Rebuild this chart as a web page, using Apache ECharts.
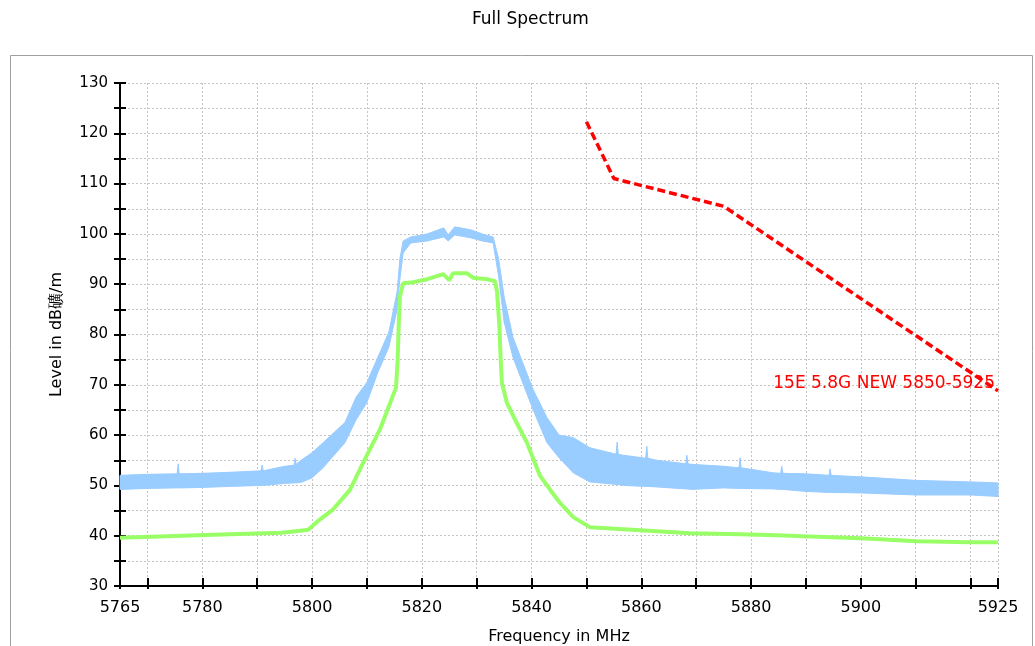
<!DOCTYPE html>
<html>
<head>
<meta charset="utf-8">
<title>Full Spectrum</title>
<script src="https://cdn.jsdelivr.net/npm/echarts@6/dist/echarts.min.js"></script>
<style>
  html, body { margin: 0; padding: 0; background: #fff; }
  #chart { width: 1035px; height: 646px; }
</style>
</head>
<body>
<div id="chart"></div>
<script>
// x tick / label positions (MHz)
var xTicks = [5765, 5770, 5780, 5790, 5800, 5810, 5820, 5830, 5840, 5850, 5860, 5870, 5880, 5890, 5900, 5910, 5920, 5925]
var xLabels = [5765, 5780, 5800, 5820, 5840, 5860, 5880, 5900, 5925]
var yLabels = [30, 40, 50, 60, 70, 80, 90, 100, 110, 120, 130]

// blue trace (peak hold) - read as lower / upper edge of the noise band, incl. the bigger spikes
var blueFreq = [5765, 5770, 5775, 5775.4, 5775.6, 5775.8, 5780, 5785, 5790.7, 5790.9, 5791.1, 5795, 5796.7, 5796.9, 5797.1, 5798, 5800, 5802, 5804, 5806, 5808, 5810, 5812, 5814, 5815.5, 5816, 5816.6, 5818, 5821, 5824, 5824.8, 5826, 5829, 5831, 5833, 5834, 5835, 5836.6, 5838, 5840.3, 5842.8, 5845, 5847.6, 5850.6, 5855.4, 5855.6, 5855.8, 5856.7, 5860.8, 5861, 5861.2, 5862.8, 5868.1, 5868.3, 5868.5, 5869, 5875, 5877.8, 5878, 5878.2, 5884, 5885.4, 5885.6, 5885.8, 5890, 5894.2, 5894.4, 5894.6, 5900, 5910, 5920, 5925]
var blueLow = [49.2, 49.4, 49.5, 49.5, 49.5, 49.5, 49.6, 49.8, 50.0, 50.0, 50.0, 50.4, 50.5, 50.5, 50.5, 50.6, 51.5, 53.5, 56.0, 58.5, 63.0, 66.5, 72.5, 77.5, 85.0, 91.0, 96.2, 98.2, 98.6, 99.4, 98.6, 99.8, 99.2, 98.6, 98.2, 91.5, 82.5, 75.5, 71.5, 65.0, 58.5, 55.5, 52.5, 50.7, 50.2, 50.2, 50.2, 50.0, 49.8, 49.8, 49.8, 49.7, 49.3, 49.3, 49.3, 49.2, 49.5, 49.4, 49.4, 49.4, 49.3, 49.2, 49.2, 49.2, 48.8, 48.6, 48.6, 48.6, 48.5, 48.1, 48.1, 47.8]
var blueHigh = [52.0, 52.2, 52.3, 52.3, 54.3, 52.3, 52.4, 52.6, 52.9, 54.0, 52.9, 53.8, 54.0, 55.4, 54.2, 55.0, 56.5, 58.5, 60.5, 62.5, 67.5, 70.5, 75.5, 80.5, 88.5, 95.0, 98.6, 99.4, 100.0, 101.2, 99.8, 101.4, 100.8, 100.0, 99.4, 95.0, 87.5, 79.5, 75.5, 69.0, 63.5, 60.0, 59.5, 57.5, 56.2, 58.6, 56.2, 56.0, 55.4, 57.8, 55.4, 55.0, 54.3, 56.0, 54.3, 54.2, 53.8, 53.5, 55.5, 53.5, 52.5, 52.4, 53.8, 52.4, 52.3, 52.0, 53.3, 52.0, 51.7, 51.0, 50.7, 50.5]

// green trace (average)
var greenFreq = [5765, 5782, 5794.5, 5797.8, 5799.3, 5801.4, 5803.8, 5806.9, 5810, 5812.4, 5814.2, 5815.1, 5815.3, 5815.6, 5815.8, 5816, 5816.6, 5818.4, 5821, 5823.9, 5825, 5825.7, 5828.2, 5829.3, 5831.9, 5833.3, 5833.7, 5834.1, 5834.4, 5834.6, 5835.5, 5837.3, 5839.2, 5841.5, 5843.4, 5845.2, 5847.6, 5850.6, 5853.7, 5859.8, 5868.9, 5878, 5884.7, 5889.5, 5900, 5910.2, 5919.9, 5925]
var greenLevel = [39.6, 40.2, 40.6, 41.0, 41.2, 43.2, 45.2, 49.1, 56.0, 61.2, 66.3, 68.9, 69.5, 75.0, 82.3, 87.5, 90.2, 90.4, 91.0, 92.0, 90.8, 92.2, 92.2, 91.3, 91.0, 90.6, 88.6, 82.3, 74.3, 70.4, 66.4, 62.4, 58.4, 52.0, 49.1, 46.5, 43.7, 41.7, 41.5, 41.1, 40.5, 40.3, 40.1, 39.9, 39.5, 38.9, 38.7, 38.7]

// limit line
var limitFreq = [5850, 5855, 5875, 5925]
var limitLevel = [122.3, 111.0, 105.5, 68.8]
var limitName = '15E 5.8G NEW 5850-5925'

var font = 'DejaVu Sans'

var chart = echarts.init(document.getElementById('chart'))

var greenData = []
for (var j = 0; j < greenFreq.length; j++) {
  greenData.push([greenFreq[j], greenLevel[j]])
}
var limitData = []
for (var k = 0; k < limitFreq.length; k++) {
  var item = { value: [limitFreq[k], limitLevel[k]] }
  if (k === limitFreq.length - 1) {
    item.label = {
      show: true,
      position: 'left',
      distance: 3,
      offset: [0, -7],
      formatter: limitName,
      color: '#ff0000',
      fontFamily: font,
      fontSize: 17
    }
  }
  limitData.push(item)
}

// blue noise band: polygon along upper edge then back along lower edge
function renderBand(params, api) {
  var pts = []
  for (var i = 0; i < blueFreq.length; i++) {
    pts.push(api.coord([blueFreq[i], blueHigh[i]]))
  }
  for (var i = blueFreq.length - 1; i >= 0; i--) {
    pts.push(api.coord([blueFreq[i], blueLow[i]]))
  }
  return {
    type: 'polygon',
    shape: { points: pts },
    style: { fill: '#99ccff', stroke: '#99ccff', lineWidth: 1 }
  }
}

var gridLine = { color: '#c4c4c4', type: [2, 2], width: 1 }

chart.setOption({
  animation: false,
  backgroundColor: '#fff',
  title: {
    text: 'Full Spectrum',
    left: 467,
    top: 6,
    textStyle: { fontFamily: font, fontSize: 17, fontWeight: 'normal', color: '#000' }
  },
  graphic: [
    {
      type: 'rect',
      silent: true,
      shape: { x: 10.5, y: 55.5, width: 1022, height: 640 },
      style: { fill: 'none', stroke: '#a0a0a0', lineWidth: 1 }
    }
  ],
  grid: { left: 120, right: 37, top: 83, bottom: 60, outerBoundsMode: 'none' },
  xAxis: [
    {
      type: 'value',
      min: 5765,
      max: 5925,
      name: 'Frequency in MHz',
      nameLocation: 'middle',
      nameGap: 43,
      nameTextStyle: { fontFamily: font, fontSize: 16, color: '#000' },
      axisLine: { lineStyle: { color: '#000', width: 2 } },
      axisTick: { inside: true, length: 8, customValues: xTicks, lineStyle: { color: '#000', width: 2 } },
      axisLabel: {
        customValues: xLabels, margin: 14, fontFamily: font, fontSize: 16, color: '#000',
        formatter: function (v) { return String(v) }
      },
      splitLine: { show: true, lineStyle: gridLine }
    },
    {
      type: 'value',
      position: 'bottom',
      offset: 0,
      min: 5765,
      max: 5925,
      axisLine: { show: false },
      axisTick: { inside: false, length: 3, customValues: xTicks, lineStyle: { color: '#000', width: 2 } },
      axisLabel: { show: false },
      splitLine: { show: false }
    }
  ],
  yAxis: [
    {
      type: 'value',
      min: 30,
      max: 130,
      interval: 5,
      name: 'Level in dB礦/m',
      nameLocation: 'middle',
      nameGap: 55,
      nameTextStyle: { fontFamily: font, fontSize: 16, color: '#000' },
      axisLine: { show: true, lineStyle: { color: '#000', width: 2 } },
      axisTick: { show: true, length: 6, lineStyle: { color: '#000', width: 2 } },
      axisLabel: { customValues: yLabels, margin: 12, fontFamily: font, fontSize: 15, color: '#000' },
      splitLine: { show: true, lineStyle: gridLine }
    },
    {
      type: 'value',
      position: 'left',
      offset: 0,
      min: 30,
      max: 130,
      interval: 5,
      axisLine: { show: false },
      axisTick: { show: true, inside: true, length: 6, lineStyle: { color: '#000', width: 2 } },
      axisLabel: { show: false },
      splitLine: { show: false }
    }
  ],
  series: [
    {
      name: 'blue',
      type: 'custom',
      data: [[blueFreq[0], blueLow[0]]],
      renderItem: renderBand,
      silent: true
    },
    {
      name: 'green',
      type: 'line',
      data: greenData,
      symbol: 'none',
      lineStyle: { color: '#99ff66', width: 4 },
      silent: true
    },
    {
      name: 'limit',
      type: 'line',
      data: limitData,
      symbol: 'circle',
      symbolSize: 0,
      lineStyle: { color: '#ff0000', width: 3.5, type: [8, 4] },
      itemStyle: { color: '#ff0000' },
      silent: true
    }
  ]
})
</script>
</body>
</html>
